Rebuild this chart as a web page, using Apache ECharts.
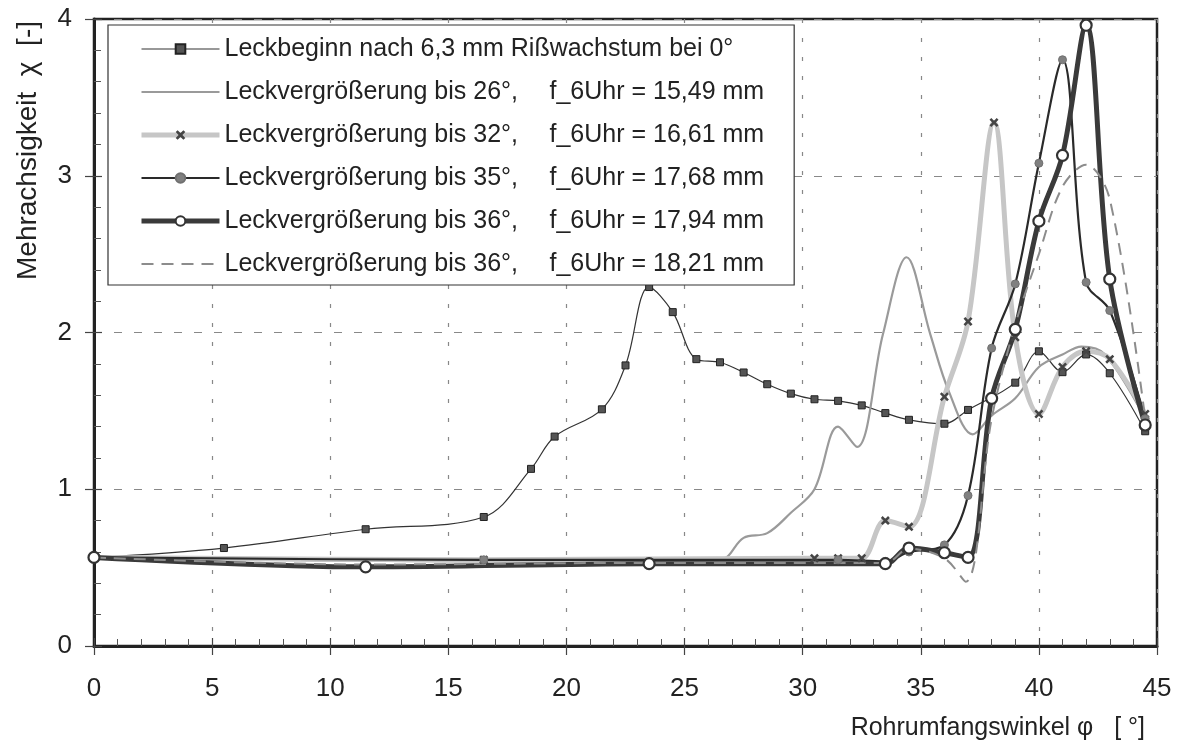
<!DOCTYPE html>
<html>
<head>
<meta charset="utf-8">
<script src="https://cdn.jsdelivr.net/npm/echarts@6/dist/echarts.min.js"></script>
<style>
  html, body { margin: 0; padding: 0; background: #fff; }
  #chart { width: 1186px; height: 751px; }
</style>
</head>
<body>
<div id="chart"></div>
<script>
// [phi in degrees, chi]
const leckbeginn = [
  [0, 0.565], [5.5, 0.625], [11.5, 0.745], [16.5, 0.823], [18.5, 1.13], [19.5, 1.336],
  [21.5, 1.51], [22.5, 1.79], [23.5, 2.29], [24.5, 2.13], [25.5, 1.83], [26.5, 1.81],
  [27.5, 1.745], [28.5, 1.67], [29.5, 1.61], [30.5, 1.574], [31.5, 1.564], [32.5, 1.535],
  [33.5, 1.486], [34.5, 1.443], [36, 1.418], [37, 1.506], [39, 1.68], [40, 1.88],
  [41, 1.747], [42, 1.86], [43, 1.74], [44.5, 1.37]
];
const bis26 = [
  [0, 0.565], [16.5, 0.54], [26.5, 0.55], [27.5, 0.69], [28.5, 0.72], [29.5, 0.85],
  [30.5, 1.0], [31.5, 1.4], [32.3, 1.27], [33.4, 1.99], [34.4, 2.48], [35.4, 1.99],
  [36.2, 1.62], [37.2, 1.35], [38, 1.47], [39, 1.58], [40, 1.78], [41, 1.86],
  [41.8, 1.91], [42.8, 1.86], [44.5, 1.45]
];
const bis32 = [
  [0, 0.565], [16.5, 0.55], [30.5, 0.56], [31.5, 0.56], [32.5, 0.56], [33.5, 0.8],
  [34.5, 0.76], [36, 1.59], [37, 2.07], [38.1, 3.34], [39, 1.97], [40, 1.48],
  [41, 1.78], [42, 1.88], [43, 1.83], [44.5, 1.48]
];
const bis35 = [
  [0, 0.565], [16.5, 0.55], [31.5, 0.55], [33.5, 0.54], [34.5, 0.6], [36, 0.645],
  [37, 0.96], [38, 1.9], [39, 2.31], [40, 3.08], [41, 3.74], [42, 2.32],
  [43, 2.14], [44.5, 1.45]
];
const bis36a = [
  [0, 0.565], [11.5, 0.505], [23.5, 0.525], [33.5, 0.525], [34.5, 0.625], [36, 0.595],
  [37, 0.565], [38, 1.58], [39, 2.02], [40, 2.71], [41, 3.13], [42, 3.96],
  [43, 2.34], [44.5, 1.41]
];
const bis36b = [
  [0, 0.565], [11.5, 0.52], [23.5, 0.53], [33.5, 0.53], [34.5, 0.62], [36, 0.56],
  [36.9, 0.41], [38, 1.45], [39, 2.05], [40, 2.5], [41, 2.93], [42, 3.07],
  [43, 2.85], [44.5, 1.45]
];

const seriesNames = [
  "Leckbeginn nach 6,3 mm Rißwachstum bei 0°",
  "Leckvergrößerung bis 26°, f_6Uhr = 15,49 mm",
  "Leckvergrößerung bis 32°, f_6Uhr = 16,61 mm",
  "Leckvergrößerung bis 35°, f_6Uhr = 17,68 mm",
  "Leckvergrößerung bis 36°, f_6Uhr = 17,94 mm",
  "Leckvergrößerung bis 36°, f_6Uhr = 18,21 mm"
];

const xTicks = { min: 0, max: 45, interval: 5 };
const yTicks = { min: 0, max: 4, interval: 1 };

const FONT = "Liberation Sans, Arial, sans-serif";
const CROSS = "path://M0,2 L2,0 L5,3 L8,0 L10,2 L7,5 L10,8 L8,10 L5,7 L2,10 L0,8 L3,5 Z";

// look of each series; legend entries reuse the same widths
const styles = [
  { symbol: "rect", size: 7, item: { color: "#555", borderColor: "#222", borderWidth: 1 }, line: { color: "#333", width: 1.2 } },
  { symbol: "none", size: 0, item: { color: "#999" }, line: { color: "#9a9a9a", width: 2.2 } },
  { symbol: CROSS, size: 9, item: { color: "#444" }, line: { color: "#c6c6c6", width: 5 } },
  { symbol: "circle", size: 8, item: { color: "#808080", borderColor: "#707070", borderWidth: 1 }, line: { color: "#2a2a2a", width: 2.2 } },
  { symbol: "circle", size: 11, item: { color: "#fff", borderColor: "#333", borderWidth: 2.2 }, line: { color: "#3a3a3a", width: 5 } },
  { symbol: "none", size: 0, item: { color: "#888" }, line: { color: "#8c8c8c", width: 2, type: [12, 8] } }
];
const seriesData = [leckbeginn, bis26, bis32, bis35, bis36a, bis36b];

const chart = echarts.init(document.getElementById("chart"));

function legendLabel(name) {
  const cut = name.indexOf("f_6Uhr");
  if (cut < 0) {
    return `{a|${name}}`;
  }
  return `{b|${name.slice(0, cut).trim()}}{a|${name.slice(cut)}}`;
}

function baseAxis(range, extra) {
  return Object.assign({
    type: "value",
    min: range.min,
    max: range.max,
    interval: range.interval
  }, extra);
}

chart.setOption({
  backgroundColor: "#fff",
  animation: false,
  textStyle: { fontFamily: FONT },
  grid: {
    left: 94,
    right: 29,
    top: 19,
    bottom: 105,
    show: true,
    borderColor: "#222",
    borderWidth: 2.5
  },
  legend: {
    orient: "vertical",
    left: 108,
    top: 25,
    itemWidth: 78,
    itemHeight: 12,
    itemGap: 13,
    padding: [9, 30, 6, 31],
    borderColor: "#333",
    borderWidth: 1.2,
    backgroundColor: "#fff",
    formatter: legendLabel,
    data: seriesNames.map((name, i) => ({
      name,
      lineStyle: { width: styles[i].line.width },
      itemStyle: styles[i].symbol === "none" ? { opacity: 0 } : {}
    })),
    textStyle: {
      fontFamily: FONT,
      fontSize: 25,
      color: "#222",
      lineHeight: 30,
      rich: {
        a: { fontFamily: FONT, fontSize: 25, color: "#222", lineHeight: 30 },
        b: { fontFamily: FONT, fontSize: 25, color: "#222", lineHeight: 30, width: 325 }
      }
    }
  },
  xAxis: [
    baseAxis(xTicks, {
      position: "bottom",
      name: "Rohrumfangswinkel φ   [ °]",
      nameLocation: "end",
      nameGap: -12,
      nameTextStyle: {
        fontFamily: FONT,
        fontSize: 25,
        color: "#222",
        align: "right",
        verticalAlign: "top",
        padding: [70, 0, 0, 0]
      },
      axisLine: { lineStyle: { color: "#222", width: 3 } },
      axisTick: { inside: true, length: 8, lineStyle: { color: "#444", width: 1.2 } },
      minorTick: { show: true, splitNumber: 5, length: 7, lineStyle: { color: "#555", width: 1 } },
      axisLabel: { fontFamily: FONT, fontSize: 26, color: "#222", margin: 30 },
      splitLine: { show: true, lineStyle: { color: "#888", width: 1.2, type: [4, 15] } }
    }),
    baseAxis(xTicks, {
      position: "bottom",
      axisLine: { show: false },
      axisTick: { inside: false, length: 9, lineStyle: { color: "#444", width: 1.2 } },
      axisLabel: { show: false },
      splitLine: { show: false }
    })
  ],
  yAxis: [
    baseAxis(yTicks, {
      position: "left",
      name: "Mehrachsigkeit  χ  [-]",
      nameLocation: "middle",
      nameGap: 52,
      nameTextStyle: {
        fontFamily: FONT,
        fontSize: 28,
        color: "#222",
        padding: [0, 0, 0, 364]
      },
      axisLine: { lineStyle: { color: "#222", width: 3 } },
      axisTick: { inside: true, length: 8, lineStyle: { color: "#444", width: 1.2 } },
      minorTick: { show: true, splitNumber: 5, length: 7, lineStyle: { color: "#555", width: 1 } },
      axisLabel: { fontFamily: FONT, fontSize: 26, color: "#222", margin: 22 },
      splitLine: { show: true, lineStyle: { color: "#888", width: 1.2, type: [8, 12] } }
    }),
    baseAxis(yTicks, {
      position: "left",
      axisLine: { show: false },
      axisTick: { inside: false, length: 9, lineStyle: { color: "#444", width: 1.2 } },
      axisLabel: { show: false },
      splitLine: { show: false }
    })
  ],
  series: seriesNames.map((name, i) => ({
    type: "line",
    name,
    data: seriesData[i],
    xAxisIndex: 0,
    yAxisIndex: 0,
    smooth: 0.35,
    symbol: styles[i].symbol,
    symbolSize: styles[i].size,
    itemStyle: styles[i].item,
    lineStyle: styles[i].line
  }))
});
</script>
</body>
</html>
